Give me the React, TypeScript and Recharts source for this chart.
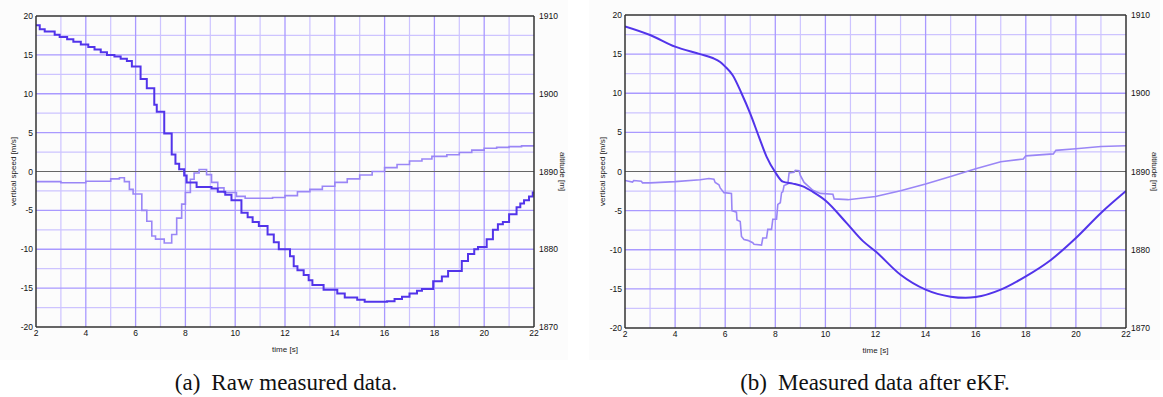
import { CartesianGrid, Label, Line, LineChart, ReferenceLine, XAxis, YAxis } from "recharts"

// axis ticks and grid positions
const timeTicks = [2, 4, 6, 8, 10, 12, 14, 16, 18, 20, 22]
const speedTicks = [-20, -15, -10, -5, 0, 5, 10, 15, 20]
const altitudeTicks = [1870, 1880, 1890, 1900, 1910]
const gridMajorTime = [4, 6, 8, 10, 12, 14, 16, 18, 20]
const gridMinorTime = [3, 5, 7, 9, 11, 13, 15, 17, 19, 21]
const gridMajorSpeed = [-15, -10, -5, 5, 10, 15]
const gridMinorSpeed = [-17.5, -12.5, -7.5, -2.5, 2.5, 7.5, 12.5, 17.5]

// (a) raw vertical speed [m/s]
const rawSpeedTime = [2, 2.15, 2.35, 2.75, 2.95, 3.25, 3.5, 3.8, 4.1, 4.35, 4.6, 4.85, 5.15, 5.4, 5.65, 5.85, 6.2, 6.45, 6.75, 6.85, 7.15, 7.45, 7.6, 7.75, 7.95, 8.05, 8.45, 9.05, 9.3, 9.6, 9.85, 10.25, 10.5, 10.7, 10.95, 11.3, 11.55, 11.75, 12.2, 12.35, 12.5, 12.75, 12.95, 13.1, 13.55, 14.1, 14.4, 14.9, 15.2, 16.1, 16.4, 16.7, 17.0, 17.3, 17.5, 17.95, 18.3, 18.55, 19.1, 19.35, 19.6, 19.75, 20.1, 20.35, 20.55, 20.75, 21.0, 21.3, 21.45, 21.6, 21.8, 21.95, 22]
const rawSpeed = [18.8, 18.3, 18.0, 17.6, 17.3, 17.0, 16.7, 16.35, 16.0, 15.7, 15.35, 15.0, 14.8, 14.5, 14.2, 13.5, 11.9, 10.7, 8.6, 7.7, 4.9, 2.2, 1.0, 0.3, -0.5, -1.4, -2.0, -2.2, -2.6, -3.0, -3.7, -5.3, -5.9, -6.5, -7.0, -8.1, -9.1, -10.0, -10.9, -12.2, -12.7, -13.3, -14.0, -14.6, -15.2, -15.7, -16.2, -16.5, -16.75, -16.7, -16.4, -16.1, -15.7, -15.35, -15.1, -14.1, -13.5, -12.8, -11.5, -10.6, -10.0, -9.7, -8.7, -7.5, -6.8, -6.5, -5.5, -4.6, -4.1, -3.7, -3.2, -2.7, -2.7]

// (a) raw altitude [m]
const rawAltTime = [2, 3, 4, 5, 5.35, 5.55, 5.75, 5.9, 6.25, 6.45, 6.65, 6.8, 7.15, 7.45, 7.65, 7.85, 8.0, 8.2, 8.35, 8.55, 8.85, 9.05, 9.3, 9.55, 10.05, 10.4, 11.5, 12.0, 12.5, 13.0, 13.5, 14.0, 14.5, 15.0, 15.5, 16.0, 16.5, 17.0, 17.5, 17.9, 18.5, 19.0, 19.5, 20.0, 20.5, 21.0, 21.5, 22]
const rawAlt = [1888.7, 1888.55, 1888.75, 1889.05, 1889.2, 1888.7, 1887.7, 1887.1, 1885.0, 1883.6, 1881.7, 1881.3, 1880.8, 1881.9, 1884.0, 1885.8, 1887.3, 1889.0, 1889.8, 1890.25, 1889.6, 1888.6, 1887.9, 1887.3, 1886.8, 1886.55, 1886.65, 1886.9, 1887.4, 1887.7, 1888.1, 1888.6, 1889.05, 1889.55, 1890.0, 1890.5, 1890.9, 1891.35, 1891.6, 1891.95, 1892.15, 1892.45, 1892.75, 1893.0, 1893.1, 1893.2, 1893.3, 1893.35]

// (b) vertical speed after eKF [m/s]
const ekfSpeedTime = [2, 3, 4, 5, 5.5, 5.8, 6, 6.3, 6.65, 7, 7.35, 7.65, 8, 8.3, 8.7, 9.1, 9.5, 10, 10.85, 11.5, 12, 13, 14, 15, 15.6, 16, 17, 18, 19, 20, 21, 22]
const ekfSpeed = [18.55, 17.45, 15.95, 15.0, 14.5, 14.0, 13.4, 12.3, 10.0, 7.4, 4.4, 1.9, -0.1, -1.3, -1.55, -1.9, -2.6, -3.7, -6.6, -8.9, -10.2, -13.2, -15.1, -16.0, -16.15, -16.05, -15.1, -13.4, -11.3, -8.5, -5.3, -2.5]

// (b) measured altitude [m]
const ekfAltTime = [2, 2.3, 2.35, 2.65, 2.7, 3, 4, 5, 5.35, 5.55, 5.6, 5.75, 5.8, 5.95, 6.25, 6.27, 6.45, 6.47, 6.6, 6.65, 6.75, 6.9, 7.1, 7.15, 7.45, 7.5, 7.65, 7.7, 7.85, 7.9, 8.05, 8.1, 8.2, 8.25, 8.3, 8.35, 8.5, 8.55, 8.75, 8.8, 8.95, 9.0, 9.15, 9.5, 9.8, 10.3, 10.35, 10.9, 12, 13, 14, 15, 16, 17, 17.9, 18, 19.1, 19.2, 20, 21, 22]
const ekfAlt = [1888.85, 1888.65, 1888.85, 1888.75, 1888.55, 1888.55, 1888.7, 1888.95, 1889.1, 1889.0, 1888.6, 1888.3, 1887.9, 1887.3, 1887.2, 1885.0, 1884.8, 1883.8, 1883.6, 1881.7, 1881.3, 1881.2, 1880.9, 1880.7, 1880.6, 1881.5, 1881.5, 1882.6, 1882.6, 1883.9, 1883.9, 1885.8, 1886.0, 1887.3, 1887.4, 1888.2, 1888.4, 1889.8, 1889.9, 1890.15, 1890.1, 1889.5, 1888.6, 1887.6, 1887.2, 1887.1, 1886.5, 1886.4, 1886.8, 1887.55, 1888.4, 1889.35, 1890.35, 1891.25, 1891.6, 1892.0, 1892.25, 1892.7, 1892.9, 1893.2, 1893.3]

const toPoints = (t: number[], v: number[]) => t.map((x, i) => ({ t: x, v: v[i] }))

const tickStyle = { fontSize: 8.5, fill: "#111", fontFamily: "Liberation Sans, sans-serif" }
const titleStyle = { fontSize: 8, fill: "#222", fontFamily: "Liberation Sans, sans-serif" }

interface PanelProps {
  speed: { t: number, v: number }[]
  altitude: { t: number, v: number }[]
  speedType: "stepAfter" | "monotone"
  altType: "stepAfter" | "linear"
  width: number
  top: number
  bottom: number
}

const Panel = ({ speed, altitude, speedType, altType, width, top, bottom }: PanelProps) => (
  <LineChart width={width} height={360} margin={{ top, right: 2, bottom, left: 6 }}>
    <CartesianGrid horizontalValues={gridMinorSpeed} verticalValues={gridMinorTime} stroke="#cdc4ff" strokeWidth={1.2} />
    <CartesianGrid horizontalValues={gridMajorSpeed} verticalValues={gridMajorTime} stroke="#a999ff" strokeWidth={1.3} />
    <XAxis dataKey="t" type="number" domain={[2, 22]} ticks={timeTicks} allowDataOverflow
      height={28} tickSize={0} tickMargin={3} tick={tickStyle} axisLine={{ stroke: "#333", strokeWidth: 1.5 }}>
      <Label value="time [s]" position="insideBottom" offset={3} {...titleStyle} />
    </XAxis>
    <YAxis type="number" domain={[-20, 20]} ticks={speedTicks} allowDataOverflow
      width={30} tickSize={0} tickMargin={3} tick={tickStyle} axisLine={{ stroke: "#333", strokeWidth: 1.5 }}>
      <Label value="vertical speed [m/s]" angle={-90} position="insideLeft" offset={7} {...titleStyle} style={{ textAnchor: "middle" }} />
    </YAxis>
    <YAxis yAxisId="alt" orientation="right" type="number" domain={[1870, 1910]} ticks={altitudeTicks} allowDataOverflow
      width={32} tickSize={0} tickMargin={5} tick={{ ...tickStyle, textAnchor: "start" }} axisLine={{ stroke: "#333", strokeWidth: 1.5 }}>
      <Label value="altitude [m]" angle={90} position="insideRight" offset={3} {...titleStyle} style={{ textAnchor: "middle" }} />
    </YAxis>
    <ReferenceLine y={20} stroke="#333" strokeWidth={1.5} />
    <ReferenceLine y={0} stroke="#666" strokeWidth={1.2} />
    <Line data={altitude} yAxisId="alt" dataKey="v" type={altType} stroke="#9a86f6" strokeWidth={1.6}
      dot={false} isAnimationActive={false} />
    <Line data={speed} dataKey="v" type={speedType} stroke="#5234ea" strokeWidth={2}
      dot={false} isAnimationActive={false} />
  </LineChart>
)

const captionStyle: React.CSSProperties = {
  position: "absolute", top: 371, width: 400, textAlign: "center",
  fontFamily: "Liberation Serif, serif", fontSize: 23, lineHeight: "23px", color: "#111", whiteSpace: "nowrap",
}

export default function App() {
  return (
    <div style={{ position: "absolute", left: 0, top: 0, width: 1163, height: 397, background: "#fff", overflow: "hidden" }}>
      <div style={{ position: "absolute", left: 0, top: 0, background: "#fcfcfc" }}>
        <Panel speed={toPoints(rawSpeedTime, rawSpeed)} altitude={toPoints(rawAltTime, rawAlt)}
          speedType="stepAfter" altType="stepAfter" width={568} top={16} bottom={5} />
      </div>
      <div style={{ position: "absolute", left: 589, top: 0, background: "#fcfcfc" }}>
        <Panel speed={toPoints(ekfSpeedTime, ekfSpeed)} altitude={toPoints(ekfAltTime, ekfAlt)}
          speedType="monotone" altType="linear" width={571} top={15} bottom={4} />
      </div>
      <div style={{ ...captionStyle, left: 86 }}>
        <span style={{ marginRight: 11 }}>(a)</span>Raw measured data.
      </div>
      <div style={{ ...captionStyle, left: 675 }}>
        <span style={{ marginRight: 11 }}>(b)</span>Measured data after eKF.
      </div>
    </div>
  )
}
